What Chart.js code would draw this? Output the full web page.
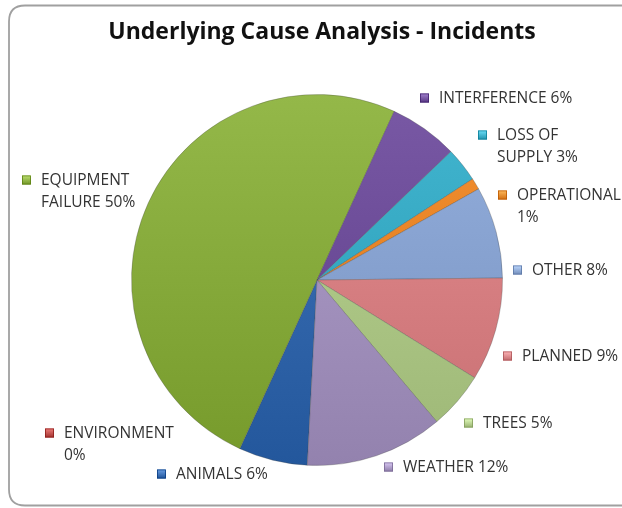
<!DOCTYPE html>
<html>
<head>
<meta charset="utf-8">
<script src="https://cdn.jsdelivr.net/npm/chart.js@4.4.1/dist/chart.umd.min.js"></script>
<style>
    html, body { margin: 0; padding: 0; background: #fff; }
    #wrap { width: 622px; height: 508px; position: relative; }
</style>
</head>
<body>
<div id="wrap"><canvas id="causeChart"></canvas></div>
<script>
const causes = ['ANIMALS', 'ENVIRONMENT', 'EQUIPMENT FAILURE', 'INTERFERENCE', 'LOSS OF SUPPLY',
    'OPERATIONAL', 'OTHER', 'PLANNED', 'TREES', 'WEATHER'];
const shares = [6, 0, 50, 6, 3, 1, 8, 9, 5, 12];
const sliceColors = ['#3C70B5', '#C0504D', '#8FB344', '#7454A0', '#3EB1CB',
    '#F08C2E', '#8FAAD8', '#E0888B', '#B6D08F', '#AC9BC7'];

// label blocks: marker left / first line middle, relative to the pie centre; w = wrap width
const labelSpots = [
    { dx: -160, dy: 194, w: 200 },
    { dx: -272, dy: 153, w: 125 },
    { dx: -295, dy: -100, w: 110 },
    { dx: 103, dy: -182, w: 200 },
    { dx: 161, dy: -145, w: 95 },
    { dx: 181, dy: -85, w: 120 },
    { dx: 196, dy: -10, w: 200 },
    { dx: 186, dy: 76, w: 200 },
    { dx: 147, dy: 143, w: 200 },
    { dx: 67, dy: 187, w: 200 }
];

const TITLE = 'Underlying Cause Analysis - Incidents';
const LABEL_FONT = '15.5px "Open Sans", Lato, sans-serif';

function shade(hex, amt) {
    const n = parseInt(hex.slice(1), 16);
    const f = c => Math.max(0, Math.min(255, Math.round(c + amt * 255)));
    return `rgb(${f(n >> 16)}, ${f((n >> 8) & 255)}, ${f(n & 255)})`;
}

function wrapText(ctx, text, maxW) {
    const words = text.split(' ');
    const lines = [];
    let cur = '';
    words.forEach(w => {
        const test = cur ? cur + ' ' + w : w;
        if (cur && ctx.measureText(test).width > maxW) {
            lines.push(cur);
            cur = w;
        } else {
            cur = test;
        }
    });
    if (cur) lines.push(cur);
    return lines;
}

function roundRect(ctx, x, y, w, h, r) {
    ctx.beginPath();
    ctx.moveTo(x + r, y);
    ctx.lineTo(x + w - r, y);
    ctx.quadraticCurveTo(x + w, y, x + w, y + r);
    ctx.lineTo(x + w, y + h - r);
    ctx.quadraticCurveTo(x + w, y + h, x + w - r, y + h);
    ctx.lineTo(x + r, y + h);
    ctx.quadraticCurveTo(x, y + h, x, y + h - r);
    ctx.lineTo(x, y + r);
    ctx.quadraticCurveTo(x, y, x + r, y);
    ctx.closePath();
}

// card frame, title and the outside labels
const decorations = {
    id: 'decorations',
    beforeDraw(chart) {
        const ctx = chart.ctx;
        ctx.save();
        ctx.fillStyle = '#fff';
        ctx.fillRect(0, 0, chart.width, chart.height);
        roundRect(ctx, 9, 5.5, 630, 500, 16);
        ctx.strokeStyle = '#a0a0a0';
        ctx.lineWidth = 1.8;
        ctx.stroke();
        ctx.restore();
    },
    afterDraw(chart) {
        const ctx = chart.ctx;
        const arc = chart.getDatasetMeta(0).data[0];
        const cx = arc.x, cy = arc.y;
        ctx.save();
        ctx.fillStyle = '#111';
        ctx.font = 'bold 23px "Open Sans", Lato, sans-serif';
        ctx.textAlign = 'center';
        ctx.textBaseline = 'middle';
        ctx.fillText(TITLE, 322, 32);

        ctx.font = LABEL_FONT;
        ctx.textAlign = 'left';
        causes.forEach((name, i) => {
            const spot = labelSpots[i];
            const x = cx + spot.dx, y = cy + spot.dy;
            // small bevelled colour key
            const g = ctx.createLinearGradient(0, y - 4.5, 0, y + 4.5);
            g.addColorStop(0, shade(sliceColors[i], 0.18));
            g.addColorStop(1, shade(sliceColors[i], -0.12));
            ctx.fillStyle = g;
            ctx.fillRect(x, y - 4.5, 9, 9);
            ctx.strokeStyle = shade(sliceColors[i], -0.2);
            ctx.lineWidth = 0.8;
            ctx.strokeRect(x + 0.4, y - 4.1, 8.2, 8.2);

            ctx.fillStyle = '#333';
            const lines = wrapText(ctx, `${name} ${shares[i]}%`, spot.w);
            lines.forEach((ln, k) => ctx.fillText(ln, x + 19, y + 1 + k * 22));
        });
        ctx.restore();
    }
};

new Chart(document.getElementById('causeChart'), {
    type: 'pie',
    data: {
        labels: causes,
        datasets: [{
            data: shares,
            backgroundColor: (c) => {
                const base = sliceColors[c.dataIndex];
                const area = c.chart.chartArea;
                if (!area) return base;
                const g = c.chart.ctx.createLinearGradient(0, area.top, 0, area.bottom);
                g.addColorStop(0, shade(base, 0.02));
                g.addColorStop(1, shade(base, -0.1));
                return g;
            },
            borderColor: 'rgba(70, 70, 70, 0.3)',
            borderWidth: 1
        }]
    },
    options: {
        responsive: true,
        maintainAspectRatio: false,
        animation: false,
        rotation: 183,
        layout: {
            padding: { left: 131, right: 119, top: 94, bottom: 42 }
        },
        plugins: {
            legend: { display: false },
            title: { display: false },
            tooltip: { enabled: false }
        }
    },
    plugins: [decorations]
});
</script>
</body>
</html>
